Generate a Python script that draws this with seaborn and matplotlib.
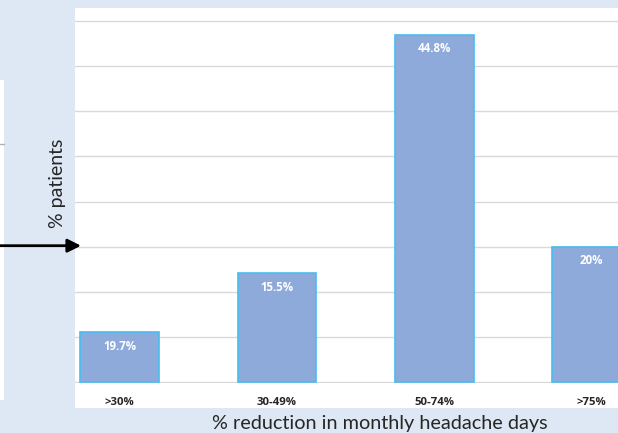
import matplotlib
matplotlib.use("Agg")
import matplotlib.pyplot as plt
import matplotlib.patches as mpatches
import pandas as pd
import seaborn as sns

# data (bar heights in axis units, labels as printed)
categories = [">30%", "30-49%", "50-74%", ">75%"]
heights = [5.5, 12.05, 38.5, 15.0]
bar_labels = ["19.7%", "15.5%", "44.8%", "20%"]
grid_ticks = [0, 5, 10, 15, 20, 25, 30, 35, 40]

BG = "#dde8f4"
BAR = "#8eaadb"
EDGE = "#45bdf0"
BOLD_FONT = ["Open Sans", "DejaVu Sans"]

sns.set_theme(style="white")
plt.rcParams["font.family"] = ["Lato", "DejaVu Sans"]

W, H = 618, 433
fig = plt.figure(figsize=(W / 100, H / 100), dpi=100, facecolor=BG)

# white panel behind the chart
fig.patches.append(mpatches.Rectangle((75 / W, 1 - 408 / H), 1 - 75 / W, 400 / H,
                                      transform=fig.transFigure, facecolor="white",
                                      edgecolor="none", zorder=-1))
# sliver of the neighbouring panel on the left
fig.patches.append(mpatches.Rectangle((0, 1 - 400 / H), 4 / W, 320 / H,
                                      transform=fig.transFigure, facecolor="white",
                                      edgecolor="none", zorder=-1))
fig.lines.append(plt.Line2D([0, 4 / W], [1 - 144 / H] * 2, transform=fig.transFigure,
                            color="#b0b0b0", lw=1, zorder=0))

ax = fig.add_axes([75 / W, 1 - 383 / H, 1 - 75 / W, (383 - 8) / H])
ax.set_facecolor("none")

df = pd.DataFrame({"cat": categories, "val": heights})
sns.barplot(data=df, x="cat", y="val", color=BAR, width=0.5, saturation=1,
            edgecolor=EDGE, linewidth=1.2, ax=ax, zorder=3)

for i, (v, lab) in enumerate(zip(heights, bar_labels)):
    ax.annotate(lab, (i, v), xytext=(0, -10), textcoords="offset points",
                ha="center", va="center", color="white", fontsize=8.3,
                fontweight="bold", family=BOLD_FONT, zorder=4)

ax.set_xlim(-0.284, 3.168)
ax.set_ylim(-0.11, 41.46)
ax.set_yticks(grid_ticks)
ax.set_yticklabels([])
ax.yaxis.grid(True, color="#d9d9d9", lw=1)
ax.set_axisbelow(True)
ax.set_xticks(range(len(categories)))
ax.set_xticklabels(categories, fontsize=8.2, fontweight="bold", family=BOLD_FONT)
ax.tick_params(axis="x", length=0, pad=10)
ax.tick_params(axis="y", length=0)
for s in ax.spines.values():
    s.set_visible(False)
ax.set_xlabel("")
ax.set_ylabel("")

fig.text(380 / W, 1 - 423 / H, "% reduction in monthly headache days",
         ha="center", va="center", fontsize=14.3)
fig.text(58 / W, 1 - 183 / H, "% patients", rotation=90,
         ha="center", va="center", fontsize=14)

# arrow coming in from the left
fig.add_artist(mpatches.FancyArrowPatch((0, 1 - 245.7 / H), (81 / W, 1 - 245.7 / H),
                                        transform=fig.transFigure, arrowstyle="-|>",
                                        mutation_scale=20, lw=2, color="black",
                                        shrinkA=0, shrinkB=0, zorder=10))

fig.savefig("out.png", dpi=100, facecolor=BG)
